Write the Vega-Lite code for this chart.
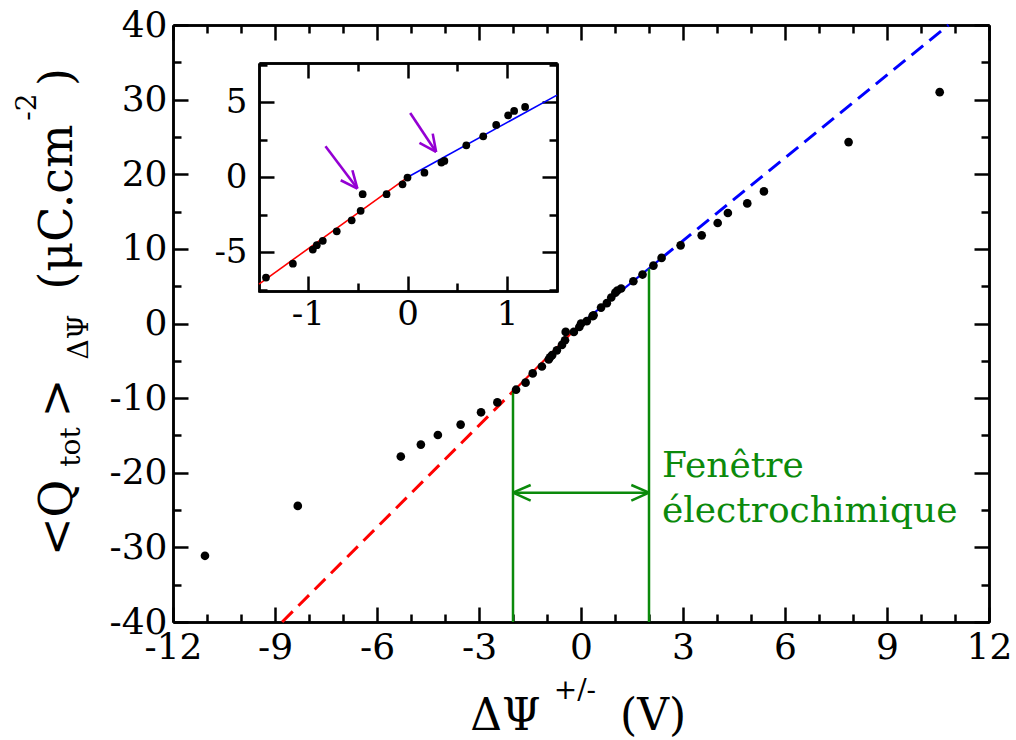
{
  "$schema": "https://vega.github.io/schema/vega-lite/v6.json",
  "width": 816,
  "height": 597,
  "autosize": {"type": "none"},
  "padding": {"left": 173, "top": 25, "right": 27, "bottom": 118},
  "background": "white",
  "config": {
    "view": {"stroke": null},
    "text": {"font": "DejaVu Serif"},
    "axis": {
      "grid": false,
      "title": null,
      "domainColor": "black",
      "domainWidth": 2.5,
      "tickColor": "black",
      "tickWidth": 2.5,
      "labelFont": "DejaVu Serif",
      "labelColor": "black",
      "labelFlush": false,
      "labelOverlap": false,
      "labelBound": false,
      "labelExpr": "'' + datum.value"
    }
  },
  "datasets": {
    "pts": [
      {"x": -11.06, "y": -31.13}, {"x": -8.33, "y": -24.44}, {"x": -5.30, "y": -17.83}, {"x": -4.71, "y": -16.23},
      {"x": -4.21, "y": -14.94}, {"x": -3.54, "y": -13.55}, {"x": -2.94, "y": -11.9}, {"x": -2.46, "y": -10.57},
      {"x": -1.91, "y": -8.87}, {"x": -1.63, "y": -7.93}, {"x": -1.42, "y": -6.69}, {"x": -1.15, "y": -5.76},
      {"x": -0.95, "y": -4.82}, {"x": -0.91, "y": -4.53}, {"x": -0.85, "y": -4.24}, {"x": -0.71, "y": -3.6},
      {"x": -0.56, "y": -2.87}, {"x": -0.47, "y": -2.24}, {"x": -0.45, "y": -1.13}, {"x": -0.21, "y": -1.13},
      {"x": -0.05, "y": -0.47}, {"x": 0.0, "y": -0.02}, {"x": 0.17, "y": 0.31}, {"x": 0.34, "y": 0.98},
      {"x": 0.37, "y": 1.09}, {"x": 0.59, "y": 2.13}, {"x": 0.76, "y": 2.73}, {"x": 0.89, "y": 3.49},
      {"x": 1.01, "y": 4.13}, {"x": 1.07, "y": 4.42}, {"x": 1.18, "y": 4.69}, {"x": 1.54, "y": 5.66},
      {"x": 1.81, "y": 6.56}, {"x": 2.13, "y": 7.76}, {"x": 2.37, "y": 8.79}, {"x": 2.93, "y": 10.47},
      {"x": 3.55, "y": 11.81}, {"x": 4.02, "y": 13.47}, {"x": 4.32, "y": 14.81}, {"x": 4.89, "y": 16.09},
      {"x": 5.38, "y": 17.7}, {"x": 7.87, "y": 24.31}, {"x": 10.55, "y": 31.0}
    ]
  },
  "resolve": {
    "scale": {"x": "independent", "y": "independent"},
    "axis": {"x": "independent", "y": "independent"}
  },
  "layer": [
    {
      "data": {"values": [{"x": -8.79, "y": -40}, {"x": -2, "y": -9.1}]},
      "mark": {"type": "line", "color": "#ff0000", "strokeWidth": 3, "strokeDash": [15, 8]},
      "encoding": {
        "x": {"field": "x", "type": "quantitative", "scale": {"domain": [-12, 12], "nice": false, "zero": false},
              "axis": {"orient": "bottom", "values": [-11, -10, -8, -7, -5, -4, -2, -1, 1, 2, 4, 5, 7, 8, 10, 11], "tickSize": -8, "labels": false}},
        "y": {"field": "y", "type": "quantitative", "scale": {"domain": [-40, 40], "nice": false, "zero": false},
              "axis": {"orient": "left", "values": [-35, -25, -15, -5, 5, 15, 25, 35], "tickSize": -8, "labels": false}}
      }
    },
    {
      "data": {"values": [{"x": -2, "y": -9.1}, {"x": 0, "y": 0}]},
      "mark": {"type": "line", "color": "#ff0000", "strokeWidth": 2.2},
      "encoding": {
        "x": {"field": "x", "type": "quantitative", "scale": {"domain": [-12, 12], "nice": false, "zero": false},
              "axis": {"orient": "top", "values": [-12, -9, -6, -3, 0, 3, 6, 9, 12], "tickSize": -15, "labels": false}},
        "y": {"field": "y", "type": "quantitative", "scale": {"domain": [-40, 40], "nice": false, "zero": false},
              "axis": {"orient": "right", "values": [-40, -30, -20, -10, 0, 10, 20, 30, 40], "tickSize": -15, "labels": false}}
      }
    },
    {
      "data": {"values": [{"x": 2.37, "y": 8.77}, {"x": 10.81, "y": 40}]},
      "mark": {"type": "line", "color": "#0000ff", "strokeWidth": 3, "strokeDash": [15, 8]},
      "encoding": {
        "x": {"field": "x", "type": "quantitative", "scale": {"domain": [-12, 12], "nice": false, "zero": false},
              "axis": {"orient": "top", "values": [-11, -10, -8, -7, -5, -4, -2, -1, 1, 2, 4, 5, 7, 8, 10, 11], "tickSize": -8, "labels": false}},
        "y": {"field": "y", "type": "quantitative", "scale": {"domain": [-40, 40], "nice": false, "zero": false},
              "axis": {"orient": "right", "values": [-35, -25, -15, -5, 5, 15, 25, 35], "tickSize": -8, "labels": false}}
      }
    },
    {
      "data": {"values": [{"x": 0, "y": 0}, {"x": 2.37, "y": 8.77}]},
      "mark": {"type": "line", "color": "#0000ff", "strokeWidth": 2.2},
      "encoding": {
        "x": {"field": "x", "type": "quantitative", "scale": {"domain": [-12, 12], "nice": false, "zero": false}, "axis": null},
        "y": {"field": "y", "type": "quantitative", "scale": {"domain": [-40, 40], "nice": false, "zero": false}, "axis": null}
      }
    },
    {
      "data": {"values": [
        {"x": -2, "y": -40, "x2": -2, "y2": -9.2},
        {"x": 2, "y": -40, "x2": 2, "y2": 7.35},
        {"x": -2, "y": -22.67, "x2": 2, "y2": -22.67},
        {"x": -2, "y": -22.67, "x2": -1.48, "y2": -21.64},
        {"x": -2, "y": -22.67, "x2": -1.48, "y2": -23.74},
        {"x": 2, "y": -22.67, "x2": 1.48, "y2": -21.64},
        {"x": 2, "y": -22.67, "x2": 1.48, "y2": -23.74}
      ]},
      "mark": {"type": "rule", "color": "#0b8a0b", "strokeWidth": 2.5},
      "encoding": {
        "x": {"field": "x", "type": "quantitative", "scale": {"domain": [-12, 12], "nice": false, "zero": false}, "axis": null},
        "y": {"field": "y", "type": "quantitative", "scale": {"domain": [-40, 40], "nice": false, "zero": false}, "axis": null},
        "x2": {"field": "x2"},
        "y2": {"field": "y2"}
      }
    },
    {
      "data": {"values": [
        {"t": "Fenêtre", "x": 2.38, "y": -20.57},
        {"t": "électrochimique", "x": 2.38, "y": -26.6}
      ]},
      "mark": {"type": "text", "align": "left", "baseline": "alphabetic", "fontSize": 36, "color": "#0b8a0b", "font": "DejaVu Serif"},
      "encoding": {
        "x": {"field": "x", "type": "quantitative", "scale": {"domain": [-12, 12], "nice": false, "zero": false}, "axis": null},
        "y": {"field": "y", "type": "quantitative", "scale": {"domain": [-40, 40], "nice": false, "zero": false}, "axis": null},
        "text": {"field": "t"}
      }
    },
    {
      "data": {"values": [
        {"t": "<Q", "x": -15.38, "y": -26.06},
        {"t": ">", "x": -15.38, "y": -9.98},
        {"t": "(μC.cm", "x": -15.38, "y": 15.61},
        {"t": ")", "x": -15.38, "y": 33.03}
      ]},
      "mark": {"type": "text", "align": "center", "baseline": "middle", "angle": 270, "fontSize": 46, "color": "black", "font": "DejaVu Serif"},
      "encoding": {
        "x": {"field": "x", "type": "quantitative", "scale": {"domain": [-12, 12], "nice": false, "zero": false}, "axis": null},
        "y": {"field": "y", "type": "quantitative", "scale": {"domain": [-40, 40], "nice": false, "zero": false}, "axis": null},
        "text": {"field": "t"}
      }
    },
    {
      "data": {"values": [
        {"t": "tot", "x": -14.97, "y": -16.55},
        {"t": "ΔΨ", "x": -14.74, "y": -1.81},
        {"t": "-2", "x": -16.26, "y": 29.01}
      ]},
      "mark": {"type": "text", "align": "center", "baseline": "middle", "angle": 270, "fontSize": 28, "color": "black", "font": "DejaVu Serif"},
      "encoding": {
        "x": {"field": "x", "type": "quantitative", "scale": {"domain": [-12, 12], "nice": false, "zero": false}, "axis": null},
        "y": {"field": "y", "type": "quantitative", "scale": {"domain": [-40, 40], "nice": false, "zero": false}, "axis": null},
        "text": {"field": "t"}
      }
    },
    {
      "data": {"values": [
        {"t": "ΔΨ", "x": -2.22, "y": -54.5},
        {"t": "(V)", "x": 2.12, "y": -54.5}
      ]},
      "mark": {"type": "text", "align": "center", "baseline": "alphabetic", "fontSize": 44, "color": "black", "font": "DejaVu Serif"},
      "encoding": {
        "x": {"field": "x", "type": "quantitative", "scale": {"domain": [-12, 12], "nice": false, "zero": false}, "axis": null},
        "y": {"field": "y", "type": "quantitative", "scale": {"domain": [-40, 40], "nice": false, "zero": false}, "axis": null},
        "text": {"field": "t"}
      }
    },
    {
      "data": {"values": [
        {"t": "+/-", "x": -0.18, "y": -50.3}
      ]},
      "mark": {"type": "text", "align": "center", "baseline": "alphabetic", "fontSize": 28, "color": "black", "font": "DejaVu Serif"},
      "encoding": {
        "x": {"field": "x", "type": "quantitative", "scale": {"domain": [-12, 12], "nice": false, "zero": false}, "axis": null},
        "y": {"field": "y", "type": "quantitative", "scale": {"domain": [-40, 40], "nice": false, "zero": false}, "axis": null},
        "text": {"field": "t"}
      }
    },
    {
      "data": {"name": "pts"},
      "mark": {"type": "circle", "size": 75, "color": "black", "opacity": 1},
      "encoding": {
        "x": {"field": "x", "type": "quantitative", "scale": {"domain": [-12, 12], "nice": false, "zero": false},
              "axis": {"orient": "bottom", "values": [-12, -9, -6, -3, 0, 3, 6, 9, 12], "tickSize": -15, "labelPadding": 23, "labelFontSize": 36}},
        "y": {"field": "y", "type": "quantitative", "scale": {"domain": [-40, 40], "nice": false, "zero": false},
              "axis": {"orient": "left", "values": [-40, -30, -20, -10, 0, 10, 20, 30, 40], "tickSize": -15, "labelPadding": 21, "labelFontSize": 36}}
      }
    },
    {
      "data": {"values": [{"x": -1.49, "y": -7.12}, {"x": 0, "y": 0}]},
      "mark": {"type": "line", "color": "#ff0000", "strokeWidth": 1.6},
      "encoding": {
        "x": {"field": "x", "type": "quantitative", "scale": {"domain": [-1.49, 1.5], "range": [86, 384], "nice": false, "zero": false},
              "axis": {"orient": "bottom", "offset": -331, "values": [-0.5, 0.5], "tickSize": -8, "labels": false}},
        "y": {"field": "y", "type": "quantitative", "scale": {"domain": [-7.65, 7.62], "range": [267, 38], "nice": false, "zero": false},
              "axis": {"orient": "left", "offset": -86, "values": [-7.5, -2.5, 2.5, 7.5], "tickSize": -8, "labels": false}}
      }
    },
    {
      "data": {"values": [{"x": 0, "y": 0}, {"x": 1.5, "y": 5.48}]},
      "mark": {"type": "line", "color": "#0000ff", "strokeWidth": 1.6},
      "encoding": {
        "x": {"field": "x", "type": "quantitative", "scale": {"domain": [-1.49, 1.5], "range": [86, 384], "nice": false, "zero": false},
              "axis": {"orient": "top", "offset": -38, "values": [-1, 0, 1], "tickSize": -15, "labels": false}},
        "y": {"field": "y", "type": "quantitative", "scale": {"domain": [-7.65, 7.62], "range": [267, 38], "nice": false, "zero": false},
              "axis": {"orient": "right", "offset": -432, "values": [-5, 0, 5], "tickSize": -15, "labels": false}}
      }
    },
    {
      "data": {"values": [
        {"x": -0.823, "y": 2.07, "x2": -0.503, "y2": -0.753},
        {"x": -0.503, "y": -0.753, "x2": -0.67, "y2": -0.2},
        {"x": -0.503, "y": -0.753, "x2": -0.553, "y2": 0.467},
        {"x": 0.027, "y": 4.29, "x2": 0.287, "y2": 1.687},
        {"x": 0.287, "y": 1.687, "x2": 0.12, "y2": 2.29},
        {"x": 0.287, "y": 1.687, "x2": 0.253, "y2": 2.91}
      ]},
      "mark": {"type": "rule", "color": "#9400d3", "strokeWidth": 2.6},
      "encoding": {
        "x": {"field": "x", "type": "quantitative", "scale": {"domain": [-1.49, 1.5], "range": [86, 384], "nice": false, "zero": false},
              "axis": {"orient": "top", "offset": -38, "values": [-0.5, 0.5], "tickSize": -8, "labels": false}},
        "y": {"field": "y", "type": "quantitative", "scale": {"domain": [-7.65, 7.62], "range": [267, 38], "nice": false, "zero": false},
              "axis": {"orient": "right", "offset": -432, "values": [-7.5, -2.5, 2.5, 7.5], "tickSize": -8, "labels": false}},
        "x2": {"field": "x2"},
        "y2": {"field": "y2"}
      }
    },
    {
      "data": {"name": "pts"},
      "transform": [{"filter": "datum.x > -1.49 && datum.x < 1.5"}],
      "mark": {"type": "circle", "size": 60, "color": "black", "opacity": 1},
      "encoding": {
        "x": {"field": "x", "type": "quantitative", "scale": {"domain": [-1.49, 1.5], "range": [86, 384], "nice": false, "zero": false},
              "axis": {"orient": "bottom", "offset": -331, "values": [-1, 0, 1], "tickSize": -15, "labelPadding": 21, "labelFontSize": 34}},
        "y": {"field": "y", "type": "quantitative", "scale": {"domain": [-7.65, 7.62], "range": [267, 38], "nice": false, "zero": false},
              "axis": {"orient": "left", "offset": -86, "values": [-5, 0, 5], "tickSize": -15, "labelPadding": 27, "labelFontSize": 34}}
      }
    }
  ]
}
